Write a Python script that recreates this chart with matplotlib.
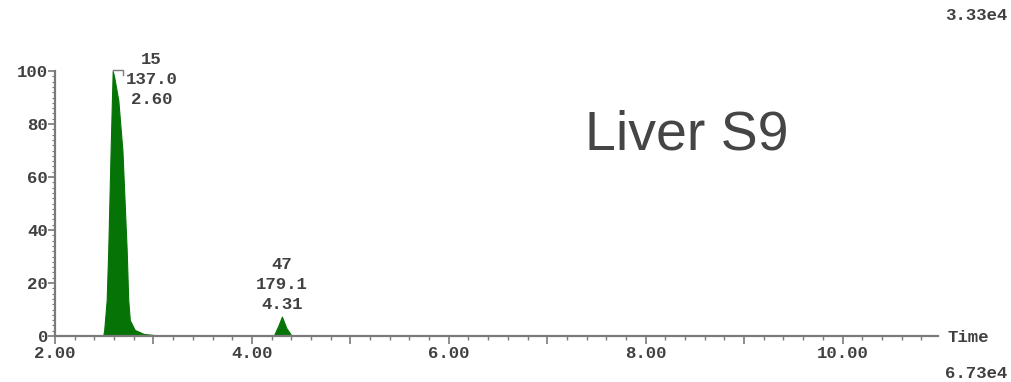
"""Liver S9 extracted-ion chromatogram, relative intensity vs. retention time."""

import matplotlib
matplotlib.use("Agg")
import matplotlib.pyplot as plt
from matplotlib.ticker import FixedLocator, MultipleLocator, NullFormatter

# retention time (min) and relative intensity (%) of the trace
peak1_time = [2.49, 2.50, 2.525, 2.541, 2.565, 2.586, 2.60, 2.643, 2.685, 2.728,
              2.744, 2.76, 2.81, 2.90, 3.05, 3.07]
peak1_level = [0, 2.3, 13.6, 32.5, 70, 100, 98, 89, 70, 32.5, 13.6, 6, 2.3, 0.8, 0.2, 0]
peak2_time = [4.20, 4.225, 4.27, 4.305, 4.35, 4.40, 4.42]
peak2_level = [0, 0.3, 4, 7.3, 3, 0.3, 0]

# peak labels: scan, m/z, retention time, apex position
peak_scans = ["15", "47"]
peak_masses = ["137.0", "179.1"]
peak_times = [2.60, 4.31]
peak_apex = [(2.586, 100), (4.305, 7.3)]

x_labels = [2, 4, 6, 8, 10]
y_labels = [0, 20, 40, 60, 80, 100]

AXIS = "#7a7a7a"
TEXT = "#404040"
FILL = "#067306"
MONO = "Liberation Mono"
MONO_SIZE = 12.5

fig = plt.figure(figsize=(10.11, 3.82), dpi=100)
ax = fig.add_axes([55 / 1011, 1 - 336 / 382, (938 - 55) / 1011, (336 - 71) / 382])

ax.fill_between(peak1_time, peak1_level, color=FILL, linewidth=0.8, edgecolor=FILL)
ax.fill_between(peak2_time, peak2_level, color=FILL, linewidth=0.8, edgecolor=FILL)

ax.set_xlim(2.0, 10.97)
ax.set_ylim(0, 100)
for side in ("top", "right"):
    ax.spines[side].set_visible(False)
for side in ("left", "bottom"):
    ax.spines[side].set_color(AXIS)
    ax.spines[side].set_linewidth(1.6)

ax.xaxis.set_major_locator(MultipleLocator(1.0))
ax.xaxis.set_minor_locator(MultipleLocator(0.2))
ax.xaxis.set_major_formatter(NullFormatter())
ax.yaxis.set_major_locator(FixedLocator(y_labels))
ax.yaxis.set_minor_locator(MultipleLocator(2))
ax.tick_params(axis="x", which="major", length=6, width=1.2, color=AXIS)
ax.tick_params(axis="x", which="minor", length=3, width=1.0, color=AXIS)
ax.tick_params(axis="y", which="major", length=5, width=1.2, color=AXIS,
               labelsize=MONO_SIZE, labelcolor=TEXT, pad=0)
ax.tick_params(axis="y", which="minor", length=2, width=0.8, color=AXIS)
for lbl in ax.get_yticklabels():
    lbl.set_family(MONO)
    lbl.set_fontweight("bold")

for xv in x_labels:
    ax.annotate(f"{xv:.2f}", (xv, 0), xytext=(0, -18), textcoords="offset pixels",
                ha="center", va="center", family=MONO, fontsize=MONO_SIZE,
                fontweight="bold", color=TEXT)

# small flag at the top of the base peak
ax.plot([2.586, 2.694, 2.694], [100.4, 100.4, 98.5], color=AXIS, linewidth=1.0,
        clip_on=False)

# three-line peak labels, placed relative to each apex (pixel offsets)
label_offsets = [(39, [11.7, -9, -28]), (0, [51.7, 31.7, 11.7])]
for scan, mass, rt, apex, (dx, dys) in zip(peak_scans, peak_masses, peak_times,
                                           peak_apex, label_offsets):
    for line, dy in zip([scan, mass, f"{rt:.2f}"], dys):
        ax.annotate(line, apex, xytext=(dx, dy), textcoords="offset pixels",
                    ha="center", va="center", family=MONO, fontsize=MONO_SIZE,
                    fontweight="bold", color=TEXT, annotation_clip=False)

fig.text(585 / 1011, 1 - 150 / 382, "Liver S9", family="Liberation Sans",
         fontsize=40, color="#454545", ha="left", va="baseline")
fig.text(947 / 1011, 1 - 337 / 382, "Time", family=MONO, fontsize=MONO_SIZE,
         fontweight="bold", color=TEXT, ha="left", va="center")
fig.text(1007 / 1011, 1 - 15 / 382, "3.33e4", family=MONO, fontsize=MONO_SIZE,
         fontweight="bold", color=TEXT, ha="right", va="center")
fig.text(1007 / 1011, 1 - 373 / 382, "6.73e4", family=MONO, fontsize=MONO_SIZE,
         fontweight="bold", color=TEXT, ha="right", va="center")

fig.savefig("out.png", dpi=100)
plt.close(fig)
